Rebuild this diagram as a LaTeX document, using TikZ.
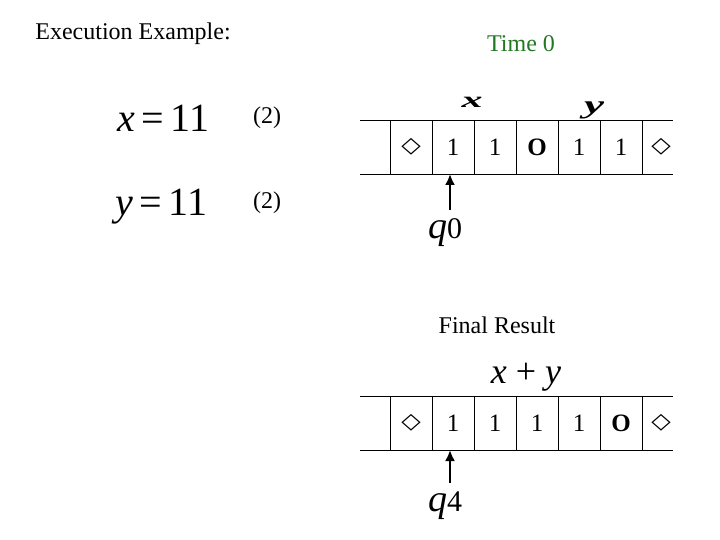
\documentclass[tikz,border=0pt]{standalone}
\usepackage{fontspec}
\setmainfont{Liberation Serif}
\newfontfamily\dejavu{DejaVu Sans}
\usepackage{tikz}
\usetikzlibrary{arrows.meta,positioning}
\definecolor{timegreen}{RGB}{34,120,34}
\newcommand{\tapeblank}{{\dejavu\fontsize{22}{24}\selectfont\scalebox{1.15}[1]{◇}}}
\tikzset{
  tape-cell/.style={draw=black, line width=0.8pt, minimum width=42pt, minimum height=53.5pt,
    inner sep=0pt, font=\fontsize{25}{30}\selectfont},
  tape-free/.style={minimum width=31pt, minimum height=53.5pt, inner sep=0pt},
  tape-edge/.style={draw=black, line width=0.8pt},
  head-arrow/.style={-{Latex[length=11pt,width=10pt]}, line width=2.2pt},
  slide-label/.style={font=\fontsize{24}{28}\selectfont, inner sep=0pt},
  eqn-label/.style={font=\fontsize{40}{46}\selectfont, inner sep=0pt},
  var-label/.style={font=\fontsize{30}{34}\selectfont\bfseries\itshape, inner sep=0pt},
  state-label/.style={inner sep=0pt, anchor=base west}
}

\begin{document}
\begin{tikzpicture}[>=Latex, x=1pt, y=-1pt]
  \useasboundingbox (0,0) rectangle (720,540);

  % Titles
  \node[slide-label] (title) at (133,34) {Execution Example:};
  \node[slide-label, text=timegreen] (time) at (521,44) {Time 0};

  % Input values
  \node[eqn-label, anchor=base west] (xval) at (117,132) {\textit{x}\,=\,11};
  \node[eqn-label, anchor=base west] (yval) at (115,215) {\textit{y}\,=\,11};
  \node[slide-label, anchor=base west] (xlen) at (253,124) {(2)};
  \node[slide-label, anchor=base west] (ylen) at (253,208) {(2)};

  % Start tape
  \coordinate (tal) at (360,120.5);
  \coordinate (tar) at (673,120.5);
  \coordinate (tbl) at (360,174);
  \coordinate (tbr) at (673,174);
  \draw[tape-edge] (tal) -- (tar);
  \draw[tape-edge] (tbl) -- (tbr);
  \node[tape-cell] (ta1) at (411,147.25) {\tapeblank};
  \node[tape-cell] (ta2) at (453,147.25) {1};
  \node[tape-cell] (ta3) at (495,147.25) {1};
  \node[tape-cell] (ta4) at (537,147.25) {\textbf{O}};
  \node[tape-cell] (ta5) at (579,147.25) {1};
  \node[tape-cell] (ta6) at (621,147.25) {1};
  \node[tape-free] (ta7) at (661,147.25) {\tapeblank};
  \node[var-label, anchor=base] (xtag) at (472,108) {\scalebox{1.4}[0.75]{x}};
  \node[var-label, anchor=base] (ytag) at (594,114) {\scalebox{1.5}[0.85]{y}};

  % Start head
  \node[state-label] (q0) at (428,238)
    {\fontsize{38}{42}\selectfont\textit{q}\fontsize{30}{34}\selectfont 0};
  \draw[head-arrow] (450,210) -- (450,174);

  % Result
  \node[slide-label] (final) at (497,325) {Final Result};
  \node[font=\fontsize{36}{40}\selectfont, inner sep=0pt, anchor=base] (sum) at (526,383) {\textit{x} + \textit{y}};

  % Final tape
  \coordinate (fal) at (360,396.5);
  \coordinate (far) at (673,396.5);
  \coordinate (fbl) at (360,450);
  \coordinate (fbr) at (673,450);
  \draw[tape-edge] (fal) -- (far);
  \draw[tape-edge] (fbl) -- (fbr);
  \node[tape-cell] (fa1) at (411,423.25) {\tapeblank};
  \node[tape-cell] (fa2) at (453,423.25) {1};
  \node[tape-cell] (fa3) at (495,423.25) {1};
  \node[tape-cell] (fa4) at (537,423.25) {1};
  \node[tape-cell] (fa5) at (579,423.25) {1};
  \node[tape-cell] (fa6) at (621,423.25) {\textbf{O}};
  \node[tape-free] (fa7) at (661,423.25) {\tapeblank};

  % Final head
  \node[state-label] (q4) at (428,511)
    {\fontsize{38}{42}\selectfont\textit{q}\fontsize{30}{34}\selectfont 4};
  \draw[head-arrow] (450,483) -- (450,450);
\end{tikzpicture}
\end{document}
